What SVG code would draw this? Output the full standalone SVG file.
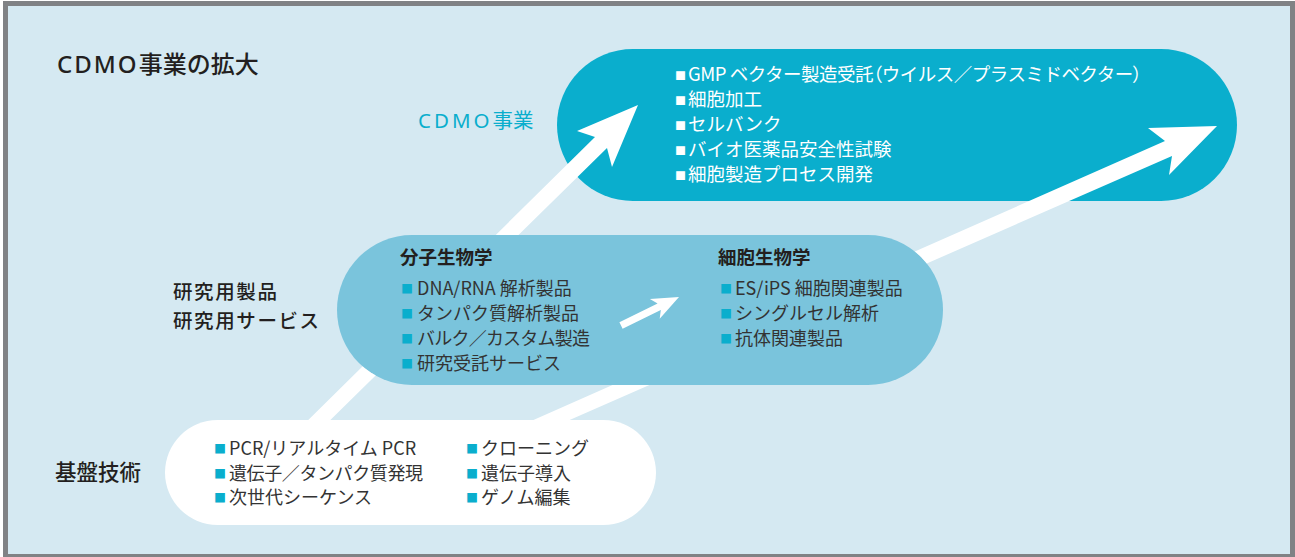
<svg xmlns="http://www.w3.org/2000/svg" width="1295" height="557" viewBox="0 0 1295 557">
<style>
.t{font-family:"Noto Sans CJK JP","Noto Sans",sans-serif}
.lat{font-family:"Noto Sans","Noto Sans CJK JP",sans-serif}
.h{fill:#231f20;font-weight:500}
.it{font-size:18px;fill:#333}
.w{font-size:18.5px;fill:#fff}
.bw{font-size:11px;fill:#fff}
.bc{font-size:12px;fill:#0aaecd}
.hd{font-size:18.5px;fill:#231f20;font-weight:bold}
.p{font-feature-settings:"palt"}
.arw{fill:#fff}
</style>
<defs>
<mask id="hide" maskUnits="userSpaceOnUse" x="0" y="0" width="1295" height="557">
<rect width="1295" height="557" fill="#fff"/>
<rect x="337" y="235" width="606" height="150" rx="75" fill="#000"/>
<rect x="165" y="420" width="491" height="105" rx="52.5" fill="#000"/>
</mask>
</defs>
<rect width="1295" height="557" fill="#fff"/>
<rect id="frame" x="5.5" y="3.5" width="1287" height="553" fill="#d5e9f2" stroke="#808285" stroke-width="5"/>
<g id="title"><text class="t h" x="57" y="73" font-size="24"><tspan class="lat" letter-spacing="2">CDMO</tspan>事業の拡大</text></g>
<g id="label-cdmo"><text class="t" x="418" y="128" font-size="20.5" fill="#0aaecd"><tspan class="lat" letter-spacing="3">CDMO</tspan>事業</text></g>
<g id="label-research">
<text class="t h" x="173" y="299" font-size="19.5" letter-spacing="1.6">研究用製品</text>
<text class="t h" x="173" y="327.5" font-size="19.5" letter-spacing="1.6">研究用サービス</text>
</g>
<g id="label-base"><text class="t h" x="55" y="480" font-size="21.5">基盤技術</text></g>
<g id="node-cdmo">
<rect x="557" y="49" width="680" height="152" rx="76" fill="#0aaecd"/>
<text class="t w"><tspan class="bw" x="675" y="80">■</tspan><tspan x="688" y="81" textLength="454" lengthAdjust="spacing">GMP ベクター製造受託<tspan class="p">（</tspan>ウイルス／プラスミドベクター<tspan class="p">）</tspan></tspan></text>
<text class="t w"><tspan class="bw" x="675" y="105">■</tspan><tspan x="688" y="106">細胞加工</tspan></text>
<text class="t w"><tspan class="bw" x="675" y="130">■</tspan><tspan x="688" y="131">セルバンク</tspan></text>
<text class="t w"><tspan class="bw" x="675" y="155">■</tspan><tspan x="688" y="156">バイオ医薬品安全性試験</tspan></text>
<text class="t w"><tspan class="bw" x="675" y="180">■</tspan><tspan x="688" y="181">細胞製造プロセス開発</tspan></text>
</g>
<g id="node-research">
<rect x="337" y="235" width="606" height="150" rx="75" fill="#7ac4dc"/>
<text class="t hd" x="400" y="264">分子生物学</text>
<text class="t it"><tspan class="bc" x="401" y="294">■</tspan><tspan x="417" y="295">DNA/RNA 解析製品</tspan></text>
<text class="t it"><tspan class="bc" x="401" y="319">■</tspan><tspan x="417" y="320">タンパク質解析製品</tspan></text>
<text class="t it"><tspan class="bc" x="401" y="344">■</tspan><tspan x="417" y="345" textLength="173" lengthAdjust="spacing">バルク／カスタム製造</tspan></text>
<text class="t it"><tspan class="bc" x="401" y="369">■</tspan><tspan x="417" y="370">研究受託サービス</tspan></text>
<text class="t hd" x="718" y="264">細胞生物学</text>
<text class="t it"><tspan class="bc" x="720" y="294">■</tspan><tspan x="735" y="295">ES/iPS 細胞関連製品</tspan></text>
<text class="t it"><tspan class="bc" x="720" y="319">■</tspan><tspan x="735" y="320">シングルセル解析</tspan></text>
<text class="t it"><tspan class="bc" x="720" y="344">■</tspan><tspan x="735" y="345">抗体関連製品</tspan></text>
</g>
<g id="node-base">
<rect x="165" y="420" width="491" height="105" rx="52.5" fill="#fff"/>
<text class="t it"><tspan class="bc" x="214" y="454">■</tspan><tspan x="229" y="455">PCR/リアルタイム PCR</tspan></text>
<text class="t it"><tspan class="bc" x="214" y="478.5">■</tspan><tspan x="229" y="479.5" textLength="194" lengthAdjust="spacing">遺伝子／タンパク質発現</tspan></text>
<text class="t it"><tspan class="bc" x="214" y="503">■</tspan><tspan x="229" y="504">次世代シーケンス</tspan></text>
<text class="t it"><tspan class="bc" x="466" y="454">■</tspan><tspan x="481" y="455">クローニング</tspan></text>
<text class="t it"><tspan class="bc" x="466" y="478.5">■</tspan><tspan x="481" y="479.5">遺伝子導入</tspan></text>
<text class="t it"><tspan class="bc" x="466" y="503">■</tspan><tspan x="481" y="504">ゲノム編集</tspan></text>
</g>
<g id="connectors">
<g mask="url(#hide)">
<polygon class="arw" points="288,440 595,137 577,131 638,105 612,167 607,148 310,440"/>
<polygon class="arw" points="488,440 1165,141 1148,128 1217,126 1169,175 1172,156 524,440"/>
</g>
<polygon class="arw" points="619.4,322.2 657.6,303.4 649.9,299 679,297 659.7,318.8 660.8,310 622.6,328.8"/>
</g>
</svg>
